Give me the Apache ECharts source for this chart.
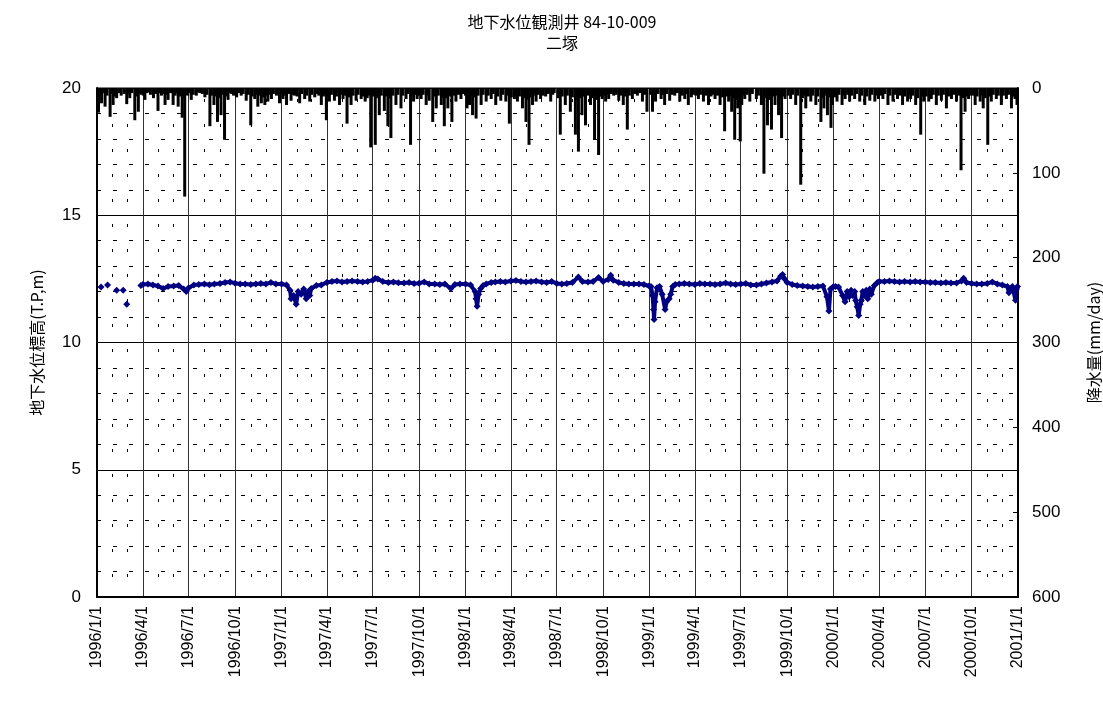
<!DOCTYPE html>
<html>
<head>
<meta charset="utf-8">
<title>地下水位観測井 84-10-009</title>
<script src="https://cdn.jsdelivr.net/npm/echarts@6/dist/echarts.min.js"></script>
<style>
  html, body { margin: 0; background: #fff; }
  #chart { width: 1103px; height: 722px; }
</style>
</head>
<body>
<div id="chart"></div>
<script>
// quarter labels on the date axis
const quarterLabels = [
  '1996/1/1', '1996/4/1', '1996/7/1', '1996/10/1',
  '1997/1/1', '1997/4/1', '1997/7/1', '1997/10/1',
  '1998/1/1', '1998/4/1', '1998/7/1', '1998/10/1',
  '1999/1/1', '1999/4/1', '1999/7/1', '1999/10/1',
  '2000/1/1', '2000/4/1', '2000/7/1', '2000/10/1',
  '2001/1/1'
];

const rainfall = [
  ['1996-01-04', 29], ['1996-01-07', 8], ['1996-01-10', 18], ['1996-01-13', 6], ['1996-01-17', 22], ['1996-01-21', 9],
  ['1996-01-27', 34], ['1996-01-30', 7], ['1996-02-02', 20], ['1996-02-05', 10], ['1996-02-09', 12], ['1996-02-14', 6],
  ['1996-02-18', 9], ['1996-02-24', 7], ['1996-02-29', 19], ['1996-03-03', 8], ['1996-03-06', 12], ['1996-03-10', 6],
  ['1996-03-16', 38], ['1996-03-19', 10], ['1996-03-23', 28], ['1996-03-26', 7], ['1996-03-29', 8],
  ['1996-04-02', 9], ['1996-04-05', 14], ['1996-04-09', 6], ['1996-04-12', 5], ['1996-04-16', 8], ['1996-04-22', 12],
  ['1996-04-26', 7], ['1996-05-01', 27], ['1996-05-04', 6], ['1996-05-08', 9], ['1996-05-11', 7], ['1996-05-15', 20],
  ['1996-05-18', 8], ['1996-05-21', 14], ['1996-05-26', 6], ['1996-05-31', 20], ['1996-06-04', 9], ['1996-06-07', 6],
  ['1996-06-10', 22], ['1996-06-14', 10], ['1996-06-18', 35], ['1996-06-21', 12], ['1996-06-23', 128], ['1996-06-26', 8],
  ['1996-06-29', 9],
  ['1996-07-03', 6], ['1996-07-06', 14], ['1996-07-10', 8], ['1996-07-16', 9], ['1996-07-20', 5], ['1996-07-23', 6],
  ['1996-07-28', 7], ['1996-08-02', 11], ['1996-08-06', 8], ['1996-08-12', 45], ['1996-08-15', 9], ['1996-08-20', 20],
  ['1996-08-24', 10], ['1996-08-27', 40], ['1996-08-30', 12], ['1996-09-03', 32], ['1996-09-06', 8], ['1996-09-10', 61],
  ['1996-09-13', 10], ['1996-09-17', 14], ['1996-09-21', 6], ['1996-09-24', 7], ['1996-09-28', 9],
  ['1996-10-01', 8], ['1996-10-04', 11], ['1996-10-08', 6], ['1996-10-13', 9], ['1996-10-17', 7], ['1996-10-23', 15],
  ['1996-10-27', 8], ['1996-11-01', 44], ['1996-11-04', 10], ['1996-11-09', 13], ['1996-11-12', 8], ['1996-11-15', 22],
  ['1996-11-19', 9], ['1996-11-22', 18], ['1996-11-26', 11], ['1996-11-29', 20], ['1996-12-02', 9], ['1996-12-05', 16],
  ['1996-12-09', 8], ['1996-12-12', 13], ['1996-12-16', 7], ['1996-12-22', 9], ['1996-12-25', 6], ['1996-12-28', 18],
  ['1997-01-01', 8], ['1997-01-04', 13], ['1997-01-08', 9], ['1997-01-11', 20], ['1997-01-15', 7], ['1997-01-20', 15],
  ['1997-01-24', 8], ['1997-01-27', 9], ['1997-02-01', 10], ['1997-02-06', 18], ['1997-02-10', 7], ['1997-02-16', 13],
  ['1997-02-20', 9], ['1997-02-26', 16], ['1997-03-02', 8], ['1997-03-08', 11], ['1997-03-12', 7], ['1997-03-16', 9],
  ['1997-03-21', 20], ['1997-03-25', 10], ['1997-03-28', 8], ['1997-03-31', 38],
  ['1997-04-03', 9], ['1997-04-06', 16], ['1997-04-10', 8], ['1997-04-16', 15], ['1997-04-20', 10], ['1997-04-26', 20],
  ['1997-04-29', 8], ['1997-05-03', 13], ['1997-05-07', 9], ['1997-05-11', 42], ['1997-05-15', 11], ['1997-05-19', 20],
  ['1997-05-23', 9], ['1997-05-29', 15], ['1997-06-02', 8], ['1997-06-08', 13], ['1997-06-12', 10], ['1997-06-16', 16],
  ['1997-06-20', 12], ['1997-06-24', 9], ['1997-06-27', 70], ['1997-06-30', 8],
  ['1997-07-03', 10], ['1997-07-06', 67], ['1997-07-10', 12], ['1997-07-14', 32], ['1997-07-18', 9], ['1997-07-24', 27],
  ['1997-07-28', 10], ['1997-07-31', 45], ['1997-08-03', 12], ['1997-08-06', 59], ['1997-08-10', 9], ['1997-08-16', 20],
  ['1997-08-20', 8], ['1997-08-26', 24], ['1997-08-30', 9], ['1997-09-05', 13], ['1997-09-09', 7], ['1997-09-14', 67],
  ['1997-09-17', 9], ['1997-09-20', 16], ['1997-09-24', 8], ['1997-09-27', 13],
  ['1997-10-01', 9], ['1997-10-05', 13], ['1997-10-09', 8], ['1997-10-15', 20], ['1997-10-18', 9], ['1997-10-21', 15],
  ['1997-10-28', 40], ['1997-10-31', 10], ['1997-11-04', 24], ['1997-11-08', 9], ['1997-11-14', 20], ['1997-11-17', 11],
  ['1997-11-20', 45], ['1997-11-24', 12], ['1997-11-27', 24], ['1997-12-01', 10], ['1997-12-05', 40], ['1997-12-09', 9],
  ['1997-12-13', 16], ['1997-12-18', 8], ['1997-12-23', 13], ['1997-12-27', 7],
  ['1998-01-01', 9], ['1998-01-04', 24], ['1998-01-09', 20], ['1998-01-12', 10], ['1998-01-15', 32], ['1998-01-18', 11],
  ['1998-01-22', 36], ['1998-01-26', 9], ['1998-02-01', 20], ['1998-02-05', 8], ['1998-02-11', 16], ['1998-02-15', 9],
  ['1998-02-21', 13], ['1998-02-25', 7], ['1998-03-02', 20], ['1998-03-06', 10], ['1998-03-12', 15], ['1998-03-16', 8],
  ['1998-03-22', 16], ['1998-03-26', 9], ['1998-03-29', 42],
  ['1998-04-02', 11], ['1998-04-08', 13], ['1998-04-11', 9], ['1998-04-14', 16], ['1998-04-18', 10], ['1998-04-24', 24],
  ['1998-04-28', 12], ['1998-05-01', 40], ['1998-05-04', 14], ['1998-05-07', 67], ['1998-05-11', 11], ['1998-05-14', 20],
  ['1998-05-18', 9], ['1998-05-21', 16], ['1998-05-25', 8], ['1998-05-30', 13], ['1998-06-04', 9], ['1998-06-09', 10],
  ['1998-06-14', 7], ['1998-06-19', 16], ['1998-06-23', 8], ['1998-06-26', 6],
  ['1998-07-04', 12], ['1998-07-08', 55], ['1998-07-12', 10], ['1998-07-18', 20], ['1998-07-22', 9], ['1998-07-28', 28],
  ['1998-08-01', 11], ['1998-08-07', 55], ['1998-08-10', 14], ['1998-08-13', 75], ['1998-08-17', 12], ['1998-08-20', 32],
  ['1998-08-24', 10], ['1998-08-27', 44], ['1998-08-31', 9], ['1998-09-06', 20], ['1998-09-10', 12], ['1998-09-14', 61],
  ['1998-09-18', 14], ['1998-09-22', 79], ['1998-09-26', 10], ['1998-09-29', 13],
  ['1998-10-03', 9], ['1998-10-06', 16], ['1998-10-09', 8], ['1998-10-12', 13], ['1998-10-17', 7], ['1998-10-22', 9],
  ['1998-10-27', 8], ['1998-11-01', 15], ['1998-11-05', 9], ['1998-11-10', 20], ['1998-11-14', 10], ['1998-11-18', 49],
  ['1998-11-22', 9], ['1998-11-28', 13], ['1998-12-03', 7], ['1998-12-08', 9], ['1998-12-13', 6], ['1998-12-18', 16],
  ['1998-12-22', 8], ['1998-12-27', 28],
  ['1999-01-03', 8], ['1999-01-07', 28], ['1999-01-10', 9], ['1999-01-13', 16], ['1999-01-18', 7], ['1999-01-24', 13],
  ['1999-01-28', 8], ['1999-01-31', 20], ['1999-02-04', 7], ['1999-02-10', 15], ['1999-02-15', 8], ['1999-02-20', 9],
  ['1999-02-25', 6], ['1999-03-02', 16], ['1999-03-07', 9], ['1999-03-12', 13], ['1999-03-16', 7], ['1999-03-19', 20],
  ['1999-03-25', 11], ['1999-03-29', 8],
  ['1999-04-03', 9], ['1999-04-08', 13], ['1999-04-12', 8], ['1999-04-18', 16], ['1999-04-23', 9], ['1999-04-28', 20],
  ['1999-05-03', 10], ['1999-05-06', 8], ['1999-05-11', 13], ['1999-05-16', 9], ['1999-05-21', 20], ['1999-05-26', 11],
  ['1999-05-30', 51], ['1999-06-03', 10], ['1999-06-07', 16], ['1999-06-10', 9], ['1999-06-13', 28], ['1999-06-16', 12],
  ['1999-06-19', 61], ['1999-06-22', 14], ['1999-06-25', 24], ['1999-06-28', 20], ['1999-06-30', 63],
  ['1999-07-03', 20], ['1999-07-06', 9], ['1999-07-09', 13], ['1999-07-14', 8], ['1999-07-19', 16], ['1999-07-24', 7],
  ['1999-08-01', 13], ['1999-08-05', 9], ['1999-08-11', 20], ['1999-08-16', 101], ['1999-08-20', 12], ['1999-08-23', 44],
  ['1999-08-27', 14], ['1999-08-31', 49], ['1999-09-04', 10], ['1999-09-07', 20], ['1999-09-11', 9], ['1999-09-14', 32],
  ['1999-09-17', 12], ['1999-09-20', 59], ['1999-09-24', 10], ['1999-09-27', 13],
  ['1999-10-03', 9], ['1999-10-08', 13], ['1999-10-12', 8], ['1999-10-18', 20], ['1999-10-22', 9], ['1999-10-28', 114],
  ['1999-11-01', 12], ['1999-11-04', 9], ['1999-11-07', 24], ['1999-11-12', 10], ['1999-11-17', 16], ['1999-11-21', 9],
  ['1999-11-27', 20], ['1999-12-01', 10], ['1999-12-07', 40], ['1999-12-10', 12], ['1999-12-13', 24], ['1999-12-17', 9],
  ['1999-12-20', 32], ['1999-12-24', 11], ['1999-12-27', 47], ['1999-12-30', 20],
  ['2000-01-04', 11], ['2000-01-08', 16], ['2000-01-12', 8], ['2000-01-18', 20], ['2000-01-21', 9], ['2000-01-24', 13],
  ['2000-01-29', 8], ['2000-02-02', 16], ['2000-02-06', 9], ['2000-02-12', 13], ['2000-02-16', 7], ['2000-02-22', 16],
  ['2000-02-26', 9], ['2000-03-03', 20], ['2000-03-07', 10], ['2000-03-13', 15], ['2000-03-17', 8], ['2000-03-23', 16],
  ['2000-03-27', 9], ['2000-03-30', 13],
  ['2000-04-04', 9], ['2000-04-08', 13], ['2000-04-12', 7], ['2000-04-18', 20], ['2000-04-22', 9], ['2000-04-28', 16],
  ['2000-05-03', 8], ['2000-05-07', 13], ['2000-05-12', 9], ['2000-05-17', 20], ['2000-05-21', 10], ['2000-05-27', 16],
  ['2000-05-30', 8], ['2000-06-02', 13], ['2000-06-06', 9], ['2000-06-12', 20], ['2000-06-16', 12], ['2000-06-22', 55],
  ['2000-06-25', 10], ['2000-06-28', 16],
  ['2000-07-03', 10], ['2000-07-08', 16], ['2000-07-13', 13], ['2000-07-17', 8], ['2000-07-23', 20], ['2000-07-27', 9],
  ['2000-08-02', 15], ['2000-08-06', 8], ['2000-08-12', 24], ['2000-08-16', 10], ['2000-08-22', 13], ['2000-08-26', 8],
  ['2000-09-01', 16], ['2000-09-05', 9], ['2000-09-10', 97], ['2000-09-14', 12], ['2000-09-18', 28], ['2000-09-22', 10],
  ['2000-09-25', 13], ['2000-09-28', 9],
  ['2000-10-03', 9], ['2000-10-08', 20], ['2000-10-12', 10], ['2000-10-18', 16], ['2000-10-21', 9], ['2000-10-24', 24],
  ['2000-10-28', 12], ['2000-11-02', 67], ['2000-11-05', 10], ['2000-11-09', 16], ['2000-11-13', 8], ['2000-11-19', 13],
  ['2000-11-23', 9], ['2000-11-29', 20], ['2000-12-03', 9], ['2000-12-09', 13], ['2000-12-13', 8], ['2000-12-19', 24],
  ['2000-12-22', 10], ['2000-12-26', 13], ['2000-12-30', 20]
];

// groundwater level (T.P, m); null = no measurement
const gwLevel = [
  ['1996-01-09', 12.18], ['1996-01-15', null], ['1996-01-22', 12.26], ['1996-01-30', null], ['1996-02-09', 12.05],
  ['1996-02-15', null], ['1996-02-22', 12.05], ['1996-02-26', null], ['1996-02-29', 11.50], ['1996-03-10', null],
  ['1996-03-28', 12.24], ['1996-04-01', 12.28], ['1996-04-11', 12.30], ['1996-04-21', 12.26], ['1996-05-01', 12.22],
  ['1996-05-11', 12.12], ['1996-05-21', 12.20], ['1996-06-01', 12.22], ['1996-06-11', 12.24], ['1996-06-21', 12.10],
  ['1996-06-26', 12.00], ['1996-07-01', 12.15], ['1996-07-11', 12.26], ['1996-07-21', 12.28], ['1996-08-01', 12.30],
  ['1996-08-11', 12.27], ['1996-08-21', 12.30], ['1996-09-01', 12.32], ['1996-09-11', 12.36], ['1996-09-21', 12.38],
  ['1996-10-01', 12.33], ['1996-10-11', 12.30], ['1996-10-21', 12.30], ['1996-11-01', 12.28], ['1996-11-11', 12.30],
  ['1996-11-21', 12.32], ['1996-12-01', 12.30], ['1996-12-11', 12.36], ['1996-12-21', 12.30],
  ['1997-01-01', 12.30], ['1997-01-11', 12.26], ['1997-01-18', 12.05], ['1997-01-20', 11.72], ['1997-01-25', 11.85],
  ['1997-01-30', 11.50], ['1997-02-03', 12.00], ['1997-02-09', 11.90], ['1997-02-14', 12.10], ['1997-02-19', 11.72],
  ['1997-02-23', 12.00], ['1997-02-26', 11.85], ['1997-03-01', 12.12], ['1997-03-11', 12.24], ['1997-03-21', 12.26],
  ['1997-04-01', 12.36], ['1997-04-11', 12.40], ['1997-04-21', 12.42], ['1997-05-01', 12.38], ['1997-05-11', 12.40],
  ['1997-05-21', 12.42], ['1997-06-01', 12.40], ['1997-06-11', 12.38], ['1997-06-21', 12.40], ['1997-07-01', 12.45],
  ['1997-07-06', 12.52], ['1997-07-11', 12.50], ['1997-07-21', 12.40], ['1997-08-01', 12.36], ['1997-08-11', 12.38],
  ['1997-08-21', 12.35], ['1997-09-01', 12.34], ['1997-09-11', 12.36], ['1997-09-21', 12.32], ['1997-10-01', 12.33],
  ['1997-10-11', 12.38], ['1997-10-21', 12.30], ['1997-11-01', 12.30], ['1997-11-11', 12.28], ['1997-11-21', 12.30],
  ['1997-12-03', 12.12], ['1997-12-11', 12.28], ['1997-12-21', 12.30],
  ['1998-01-01', 12.30], ['1998-01-11', 12.26], ['1998-01-20', 12.00], ['1998-01-22', 11.72], ['1998-01-24', 11.42],
  ['1998-01-27', 11.90], ['1998-01-31', 12.12], ['1998-02-05', 12.24], ['1998-02-11', 12.30], ['1998-02-21', 12.36],
  ['1998-03-01', 12.38], ['1998-03-11', 12.40], ['1998-03-21', 12.38], ['1998-04-01', 12.42], ['1998-04-11', 12.44],
  ['1998-04-21', 12.40], ['1998-05-01', 12.38], ['1998-05-11', 12.40], ['1998-05-21', 12.42], ['1998-06-01', 12.38],
  ['1998-06-11', 12.36], ['1998-06-21', 12.40], ['1998-07-01', 12.32], ['1998-07-11', 12.30], ['1998-07-21', 12.32],
  ['1998-08-01', 12.36], ['1998-08-13', 12.57], ['1998-08-21', 12.40], ['1998-09-01', 12.38], ['1998-09-11', 12.40],
  ['1998-09-22', 12.55], ['1998-10-01', 12.40], ['1998-10-11', 12.48], ['1998-10-16', 12.64], ['1998-10-21', 12.45],
  ['1998-11-01', 12.36], ['1998-11-11', 12.32], ['1998-11-21', 12.30], ['1998-12-01', 12.30], ['1998-12-11', 12.30],
  ['1998-12-21', 12.28], ['1998-12-31', 12.22],
  ['1999-01-04', 12.20], ['1999-01-07', 11.85], ['1999-01-09', 11.30], ['1999-01-10', 10.90], ['1999-01-12', 11.60],
  ['1999-01-16', 12.15], ['1999-01-21', 12.20], ['1999-01-26', 11.90], ['1999-02-01', 11.30], ['1999-02-04', 11.60],
  ['1999-02-09', 11.72], ['1999-02-12', 11.90], ['1999-02-16', 12.20], ['1999-02-21', 12.28], ['1999-03-01', 12.30],
  ['1999-03-11', 12.32], ['1999-03-21', 12.30], ['1999-04-01', 12.28], ['1999-04-11', 12.32], ['1999-04-21', 12.30],
  ['1999-05-01', 12.30], ['1999-05-11', 12.28], ['1999-05-21', 12.30], ['1999-06-01', 12.34], ['1999-06-11', 12.30],
  ['1999-06-21', 12.28], ['1999-07-01', 12.30], ['1999-07-11', 12.32], ['1999-07-21', 12.26], ['1999-08-01', 12.26],
  ['1999-08-11', 12.30], ['1999-08-21', 12.34], ['1999-09-01', 12.38], ['1999-09-11', 12.42], ['1999-09-18', 12.60],
  ['1999-09-22', 12.67], ['1999-09-26', 12.50], ['1999-10-01', 12.36], ['1999-10-11', 12.28], ['1999-10-21', 12.24],
  ['1999-11-01', 12.22], ['1999-11-11', 12.20], ['1999-11-21', 12.18], ['1999-12-01', 12.20], ['1999-12-11', 12.22],
  ['1999-12-19', 11.80], ['1999-12-23', 11.24], ['1999-12-26', 12.10], ['1999-12-31', 12.18],
  ['2000-01-05', 12.20], ['2000-01-11', 12.18], ['2000-01-19', 11.85], ['2000-01-24', 11.60], ['2000-01-28', 12.00],
  ['2000-02-01', 11.80], ['2000-02-05', 12.05], ['2000-02-08', 11.85], ['2000-02-12', 12.00], ['2000-02-14', 11.65],
  ['2000-02-17', 11.40], ['2000-02-20', 11.06], ['2000-02-23', 11.50], ['2000-02-25', 11.65], ['2000-02-28', 12.00],
  ['2000-03-02', 11.85], ['2000-03-06', 12.05], ['2000-03-09', 11.72], ['2000-03-13', 12.10], ['2000-03-16', 11.90],
  ['2000-03-22', 12.24], ['2000-03-28', 12.36], ['2000-04-01', 12.40], ['2000-04-11', 12.40], ['2000-04-21', 12.42],
  ['2000-05-01', 12.40], ['2000-05-11', 12.38], ['2000-05-21', 12.40], ['2000-06-01', 12.38], ['2000-06-11', 12.40],
  ['2000-06-21', 12.38], ['2000-07-01', 12.38], ['2000-07-11', 12.36], ['2000-07-21', 12.36], ['2000-08-01', 12.34],
  ['2000-08-11', 12.36], ['2000-08-21', 12.34], ['2000-09-01', 12.34], ['2000-09-11', 12.42], ['2000-09-15', 12.52],
  ['2000-09-21', 12.36], ['2000-10-01', 12.32], ['2000-10-11', 12.30], ['2000-10-21', 12.30], ['2000-11-01', 12.32],
  ['2000-11-11', 12.38], ['2000-11-21', 12.30], ['2000-12-01', 12.26], ['2000-12-11', 12.20], ['2000-12-14', 11.95],
  ['2000-12-21', 12.20], ['2000-12-27', 11.66], ['2000-12-29', 12.10], ['2000-12-31', 12.20]
];

// one category per day, 1996/1/1 .. 2001/1/1
const START = Date.UTC(1996, 0, 1);
const DAY = 86400000;
const days = [];
for (let t = START; t <= Date.UTC(2001, 0, 1); t += DAY) {
  const d = new Date(t);
  days.push(d.getUTCFullYear() + '/' + (d.getUTCMonth() + 1) + '/' + d.getUTCDate());
}
const dayIndex = (s) => {
  const p = s.split('-');
  return Math.round((Date.UTC(+p[0], +p[1] - 1, +p[2]) - START) / DAY);
};
const isQuarter = (i, v) => quarterLabels.indexOf(v) >= 0;
const isMinorMonth = (i, v) => /\/1$/.test(v) && quarterLabels.indexOf(v) < 0;

const chart = echarts.init(document.getElementById('chart'));
const font = '"Liberation Sans", Arial, sans-serif';
const jpFont = '"Noto Sans CJK JP", sans-serif';

chart.setOption({
  animation: false,
  backgroundColor: '#fff',
  title: {
    text: '地下水位観測井 84-10-009\n二塚',
    left: 557,
    top: 6,
    textAlign: 'center',
    textStyle: { fontFamily: jpFont, fontSize: 16, fontWeight: 'normal', color: '#000', lineHeight: 21 }
  },
  grid: {
    left: 97, right: 85, top: 88, bottom: 125,
    outerBoundsMode: 'none',
    containLabel: false,
    show: true, borderColor: '#000', borderWidth: 1
  },
  xAxis: [
    {
      type: 'category',
      data: days,
      boundaryGap: false,
      axisLine: { lineStyle: { color: '#000', width: 2 } },
      axisTick: { show: false },
      axisLabel: { interval: isQuarter, rotate: 90, margin: 9, fontSize: 16, fontFamily: font, color: '#000' },
      splitLine: { show: true, interval: isQuarter, lineStyle: { color: '#333', width: 1 } }
    },
    {
      type: 'category',
      data: days,
      boundaryGap: false,
      axisLine: { show: false },
      axisTick: { show: false },
      axisLabel: { show: false },
      splitLine: { show: true, interval: isMinorMonth, lineStyle: { color: '#000', width: 1, type: [3, 22], dashOffset: -11 } }
    }
  ],
  yAxis: [
    {
      type: 'value',
      min: 0,
      max: 20,
      interval: 5,
      name: '地下水位標高(T.P,m)',
      nameLocation: 'middle',
      nameRotate: 90,
      nameGap: 52,
      nameTextStyle: { fontFamily: jpFont, fontSize: 16, color: '#000' },
      axisLine: { show: true, lineStyle: { color: '#000', width: 2 } },
      axisTick: { show: false },
      axisLabel: { fontSize: 17, fontFamily: font, color: '#000', margin: 16 },
      splitLine: { show: true, lineStyle: { color: '#000', width: 1 } },
      minorTick: { show: false, splitNumber: 5 },
      minorSplitLine: { show: true, lineStyle: { color: '#000', width: 1, type: [4, 12] } }
    },
    {
      type: 'value',
      min: 0,
      max: 600,
      interval: 100,
      inverse: true,
      position: 'right',
      name: '降水量(mm/day)',
      nameLocation: 'middle',
      nameRotate: 90,
      nameGap: 68,
      nameTextStyle: { fontFamily: jpFont, fontSize: 16, color: '#000' },
      axisLine: { show: true, lineStyle: { color: '#000', width: 2 } },
      axisTick: { show: true, inside: true, length: 5, lineStyle: { color: '#000' } },
      axisLabel: { fontSize: 17, fontFamily: font, color: '#000', margin: 14 },
      splitLine: { show: false }
    }
  ],
  series: [
    {
      name: '降水量',
      type: 'bar',
      xAxisIndex: 0,
      yAxisIndex: 1,
      barWidth: 3,
      itemStyle: { color: '#000' },
      data: rainfall.map(([d, v]) => [dayIndex(d), v])
    },
    {
      name: '地下水位',
      type: 'line',
      xAxisIndex: 0,
      yAxisIndex: 0,
      symbol: 'diamond',
      symbolSize: 7,
      showAllSymbol: true,
      connectNulls: false,
      lineStyle: { color: '#000080', width: 4 },
      itemStyle: { color: '#000080' },
      data: gwLevel.map(([d, v]) => [dayIndex(d), v])
    }
  ]
});
</script>
</body>
</html>
